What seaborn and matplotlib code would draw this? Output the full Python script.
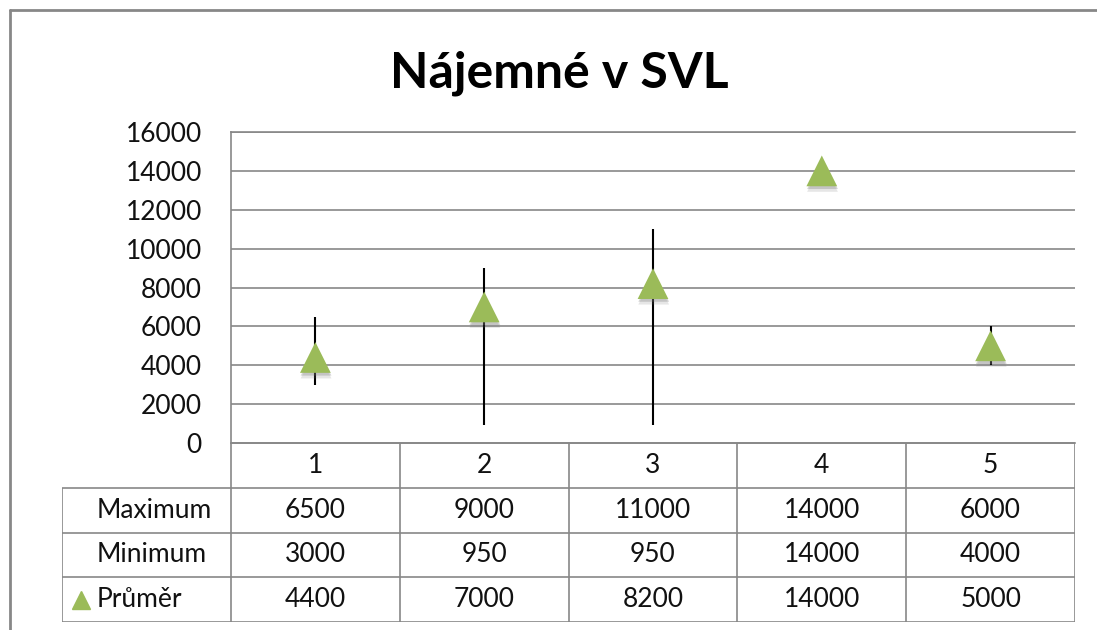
import pandas as pd
import matplotlib
matplotlib.use("Agg")
import matplotlib.pyplot as plt
import matplotlib.patheffects as pe
from matplotlib.lines import Line2D
import seaborn as sns

# Data
categories = ["1", "2", "3", "4", "5"]
maximum = [6500, 9000, 11000, 14000, 6000]
minimum = [3000, 950, 950, 14000, 4000]
average = [4400, 7000, 8200, 14000, 5000]
row_labels = ["Maximum", "Minimum", "Průměr"]
y_ticks = [0, 2000, 4000, 6000, 8000, 10000, 12000, 14000, 16000]

sns.set_theme(style="white")
plt.rcParams['font.family'] = ['Lato', 'DejaVu Sans']

W, H = 1097, 630
GREEN = "#9BBB59"
GRID = "#878787"
FS = 19

df = pd.DataFrame({"cat": categories, "max": maximum, "min": minimum, "avg": average})
df["pos"] = range(len(df))

fig = plt.figure(figsize=(W / 100, H / 100), dpi=100)
fig.patch.set_facecolor("white")

# outer chart frame: only top and left edges are inside the screenshot
fig.lines.append(Line2D([10 / W, 1.05], [1 - 10 / H, 1 - 10 / H],
                        transform=fig.transFigure, color=GRID, linewidth=2))
fig.lines.append(Line2D([10 / W, 10 / W], [1 - 10 / H, -0.05],
                        transform=fig.transFigure, color=GRID, linewidth=2))

# Plot area
ax = fig.add_axes([231 / W, 1 - 443 / H, (1075 - 231) / W, (443 - 132) / H])
ax.vlines(df["pos"], df["min"], df["max"], color="black", linewidth=1.5, zorder=3)
sns.scatterplot(data=df, x="pos", y="avg", marker="^", s=490, color=GREEN,
                edgecolor="none", linewidth=0, ax=ax, zorder=4, legend=False)
ax.collections[-1].set_path_effects([
    pe.SimplePatchShadow(offset=(0.5, -4), shadow_rgbFace="#777777", alpha=0.18),
    pe.SimplePatchShadow(offset=(0.5, -2), shadow_rgbFace="#777777", alpha=0.3),
    pe.Normal()])

ax.set_xlim(-0.5, len(categories) - 0.5)
ax.set_ylim(0, 16000)
ax.set_xticks([])
ax.set_yticks(y_ticks)
ax.set_yticklabels([str(t) for t in y_ticks], fontsize=FS, color="#111111")
ax.tick_params(axis="y", length=0, pad=21)
ax.set_xlabel("")
ax.set_ylabel("")
ax.grid(axis="y", color=GRID, linewidth=1.2)
ax.grid(axis="x", visible=False)
for side in ["left", "top", "bottom"]:
    ax.spines[side].set_color(GRID)
    ax.spines[side].set_linewidth(1.2)
ax.spines["right"].set_visible(False)

# Data table below the plot
tax = fig.add_axes([62 / W, 1 - 622 / H, (1075 - 62) / W, (622 - 443) / H])
tax.set_xlim(-1.5, len(categories) - 0.5)
tax.set_ylim(4, 0)
tax.axis("off")
n = len(categories)
tax.hlines(0, -0.5, n - 0.5, color=GRID, linewidth=1.2)
tax.hlines([1, 2, 3, 4], -1.5, n - 0.5, color=GRID, linewidth=1.2)
tax.vlines([i - 0.5 for i in range(n + 1)], 0, 4, color=GRID, linewidth=1.2)
tax.vlines(-1.5, 1, 4, color=GRID, linewidth=1.2)

for i, c in enumerate(categories):
    tax.text(i, 0.5, c, ha="center", va="center", fontsize=FS, color="#111111")
for r, vals in enumerate([maximum, minimum, average], start=1):
    for i, v in enumerate(vals):
        tax.text(i, r + 0.5, str(v), ha="center", va="center", fontsize=FS, color="#111111")
    tax.text(-1.295, r + 0.5, row_labels[r - 1], ha="left", va="center",
             fontsize=FS, color="#111111")
tax.plot([-1.39], [3.5], marker="^", markersize=13, color=GREEN, linestyle="none")

fig.text(559 / W, 1 - 88 / H, "Nájemné v SVL", ha="center", va="baseline",
         fontsize=36, fontweight="bold", color="black")

fig.savefig("out.png", dpi=100, facecolor="white")
